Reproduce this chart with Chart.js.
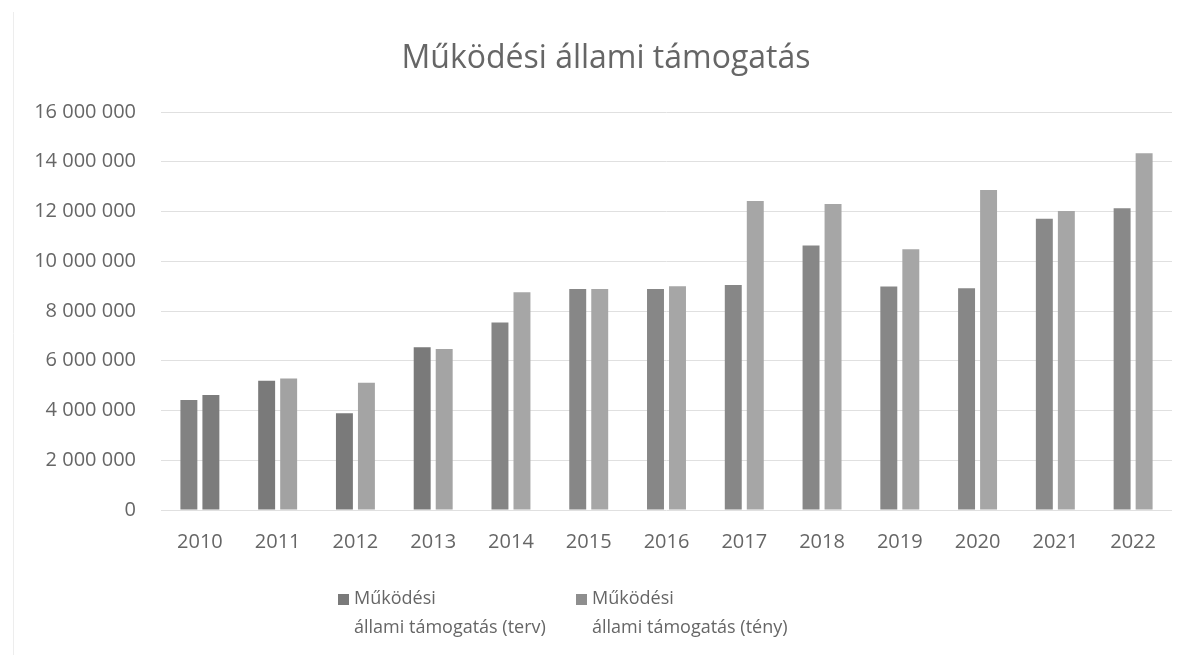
<!DOCTYPE html>
<html lang="hu">
<head>
<meta charset="utf-8">
<title>Működési állami támogatás</title>
<script src="https://cdn.jsdelivr.net/npm/chart.js@4.4.1/dist/chart.umd.min.js"></script>
<style>
    html, body { margin: 0; padding: 0; background: #fff; }
    #wrap { position: relative; width: 1188px; height: 655px; }
</style>
</head>
<body>
<div id="wrap"><canvas id="chart"></canvas></div>
<script>
// Chart data
const years = ['2010', '2011', '2012', '2013', '2014', '2015', '2016', '2017', '2018', '2019', '2020', '2021', '2022'];
const tervValues = [4420000, 5200000, 3890000, 6540000, 7540000, 8880000, 8880000, 9050000, 10630000, 8980000, 8910000, 11710000, 12130000];
const tenyValues = [4620000, 5290000, 5120000, 6470000, 8750000, 8880000, 9000000, 12420000, 12300000, 10480000, 12860000, 12020000, 14340000];
const seriesLabels = ['Működési\nállami támogatás (terv)', 'Működési\nállami támogatás (tény)'];
const chartTitle = 'Működési állami támogatás';
const yMax = 16000000;
const yStep = 2000000;

// Colours (scanned grey tones, a few bars came out darker)
const tervColors = ['#828282', '#7a7a7a', '#7a7a7a', '#7a7a7a', '#858585', '#878787', '#878787', '#878787', '#878787', '#878787', '#878787', '#898989', '#898989'];
const tenyColors = ['#7c7c7c', '#a2a2a2', '#a4a4a4', '#a4a4a4', '#a6a6a6', '#a6a6a6', '#a6a6a6', '#a6a6a6', '#a6a6a6', '#a6a6a6', '#a6a6a6', '#a6a6a6', '#a6a6a6'];
const legendColors = ['#7a7a7a', '#8e8e8e'];
const textColor = '#666666';
const fontFamily = '"Open Sans", "DejaVu Sans", sans-serif';

// Format numbers with space as thousands separator
function formatNumber(v) {
    return String(v).replace(/\B(?=(\d{3})+(?!\d))/g, ' ');
}

// Title, frame edge and two-line legend drawn by hand
const decorPlugin = {
    id: 'decor',
    afterDraw(chart) {
        const ctx = chart.ctx;
        ctx.save();
        // faint edge of the scanned chart frame
        ctx.strokeStyle = '#ededed';
        ctx.lineWidth = 1;
        ctx.beginPath();
        ctx.moveTo(13.5, 12);
        ctx.lineTo(13.5, 655);
        ctx.stroke();

        ctx.fillStyle = textColor;
        ctx.font = '32px ' + fontFamily;
        ctx.textAlign = 'center';
        ctx.textBaseline = 'middle';
        ctx.fillText(chartTitle, 606, 59);

        ctx.font = '18px ' + fontFamily;
        ctx.textAlign = 'left';
        const startX = [338, 576];
        seriesLabels.forEach((label, i) => {
            const x = startX[i];
            ctx.fillStyle = legendColors[i];
            ctx.fillRect(x, 594, 11, 11);
            ctx.fillStyle = textColor;
            label.split('\n').forEach((line, j) => {
                ctx.fillText(line, x + 16, 599 + j * 29);
            });
        });
        ctx.restore();
    }
};

new Chart(document.getElementById('chart'), {
    type: 'bar',
    data: {
        labels: years,
        datasets: [{
            label: seriesLabels[0],
            data: tervValues,
            backgroundColor: tervColors,
            categoryPercentage: 0.566,
            barPercentage: 0.77
        }, {
            label: seriesLabels[1],
            data: tenyValues,
            backgroundColor: tenyColors,
            categoryPercentage: 0.566,
            barPercentage: 0.77
        }]
    },
    options: {
        responsive: true,
        maintainAspectRatio: false,
        animation: false,
        layout: { padding: { top: 112, right: 16, bottom: 0, left: 0 } },
        plugins: {
            legend: { display: false },
            title: { display: false },
            tooltip: { enabled: false }
        },
        scales: {
            x: {
                grid: { display: false, drawTicks: false },
                border: { display: false },
                ticks: {
                    color: textColor,
                    font: { family: fontFamily, size: 20 },
                    padding: 20,
                    maxRotation: 0
                },
                afterFit(scale) { scale.height = 145; }
            },
            y: {
                min: 0,
                max: yMax,
                grid: { color: '#e0e0e0', lineWidth: 1, drawTicks: false },
                border: { display: false },
                ticks: {
                    stepSize: yStep,
                    color: textColor,
                    font: { family: fontFamily, size: 20 },
                    padding: 25,
                    callback: v => formatNumber(v)
                },
                afterFit(scale) { scale.width = 161; }
            }
        }
    },
    plugins: [decorPlugin]
});
</script>
</body>
</html>
